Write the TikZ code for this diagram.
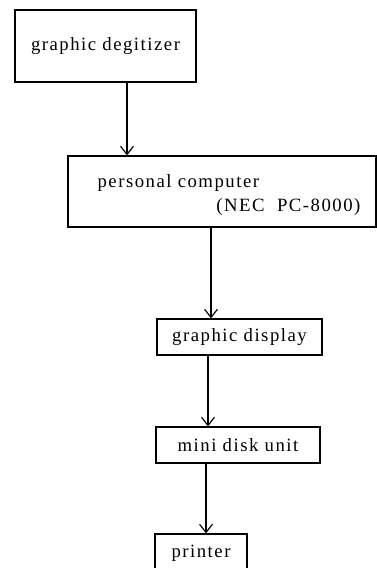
\documentclass[tikz,border=0pt]{standalone}
\usepackage{fontspec}
\setmainfont{Liberation Serif}[LetterSpace=8]
\usetikzlibrary{arrows.meta}

\tikzset{
  unit/.style={draw, line width=1pt, rectangle, inner sep=0pt,
    font=\fontsize{16}{18}\selectfont},
  lbl/.style={inner sep=0pt, font=\fontsize{16}{18}\selectfont}
}

\begin{document}
\begin{tikzpicture}[x=0.03cm, y=-0.03cm, >={Straight Barb[length=7pt,width=11pt]}, line width=1pt]
\useasboundingbox (0,0) rectangle (377,568);
\clip (0,0) rectangle (377,568);

\node[unit, minimum width=181*0.03cm, minimum height=72*0.03cm] (gd) at (105.5,46) {graphic degitizer};
\node[unit, minimum width=308*0.03cm, minimum height=71*0.03cm] (pc) at (222,191.5) {};
\node[lbl, anchor=west] (pcname) at (97,183) {personal computer};
\node[lbl, anchor=east] (pcmodel) at (361,207) {(NEC~~PC-8000)};
\node[unit, minimum width=165*0.03cm, minimum height=36*0.03cm] (disp) at (239.5,337) {graphic display};
\node[unit, minimum width=164*0.03cm, minimum height=36*0.03cm] (disk) at (238,445) {mini disk unit};
\node[unit, minimum width=92*0.03cm, minimum height=38*0.03cm] (prn) at (201,553) {printer};

\draw[->] (gd.south -| 127,0) -- (pc.north -| 127,0);
\draw[->] (pc.south -| 211,0) -- (disp.north -| 211,0);
\draw[->] (disp.south -| 208,0) -- (disk.north -| 208,0);
\draw[->] (disk.south -| 206,0) -- (prn.north -| 206,0);
\end{tikzpicture}
\end{document}
